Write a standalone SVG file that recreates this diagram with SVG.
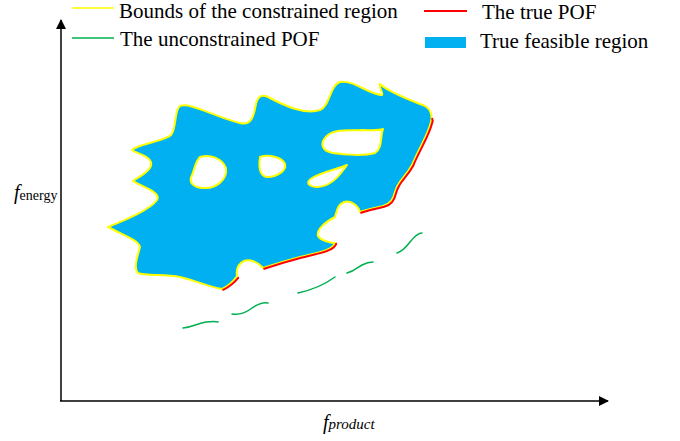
<svg xmlns="http://www.w3.org/2000/svg" width="680" height="441" viewBox="0 0 680 441">
<defs>
<style>
.t{font-family:"Liberation Serif","Times New Roman",serif;fill:#000}
.leg{font-size:21px}
.bnd{stroke:#ffff00;stroke-width:2;stroke-linejoin:round}
.pof{fill:none;stroke:#ff0000;stroke-width:2;stroke-linecap:round}
.upof{fill:none;stroke:#00b050;stroke-width:1.5;stroke-linecap:round}
.ax{stroke:#000;stroke-width:1.5;fill:none}
</style>
<marker id="ah" viewBox="0 0 10 10" refX="9" refY="5" markerWidth="10" markerHeight="10" markerUnits="userSpaceOnUse" orient="auto">
<path d="M0,0 L10,5 L0,10 Z" fill="#000"/>
</marker>
</defs>
<rect width="680" height="441" fill="#fff"/>

<g id="axes">
<path class="ax" d="M61,401 L61,20" marker-end="url(#ah)"/>
<path class="ax" d="M60,401 L608,401" marker-end="url(#ah)"/>
<text class="t" x="14" y="199" style="font-size:20px;font-style:italic">f<tspan style="font-size:14px;font-style:normal" dy="1">energy</tspan></text>
<text class="t" x="323" y="429" style="font-size:20px;font-style:italic">f<tspan style="font-size:15px">product</tspan></text>
</g>

<g id="legend">
<line x1="72" y1="8" x2="114" y2="8" stroke="#ffff00" stroke-width="1.5"/>
<text class="t leg" x="119" y="17.5">Bounds of the constrained region</text>
<line x1="72" y1="38" x2="114" y2="38" stroke="#00b050" stroke-width="1.5"/>
<text class="t leg" x="120" y="46">The unconstrained POF</text>
<line x1="424" y1="11" x2="467" y2="11" stroke="#ff0000" stroke-width="2"/>
<text class="t leg" x="482" y="19">The true POF</text>
<rect x="425" y="37" width="41" height="11" fill="#00b0f0"/>
<text class="t leg" x="480" y="48">True feasible region</text>
</g>

<g id="region">
<path class="bnd" fill="#00b0f0" d="M108,227 C125,220 150,210 157,200 C162,192 140,186 133,181 C140,176 153,170 151,162 C149,155 135,153 132,150 C138,144 165,141 171,135 C177,128 174,110 180,106 C190,102 215,117 240,123 C252,126 254,115 256,104 C258,96 262,94 268,97 C285,106 305,115 320,110 C330,106 330,85 340,82 C352,79 370,95 382,95 C384,94 378,86 380,84 C388,92 410,100 425,106 C432,110 432,118 431,122 C428,135 418,150 412,165 C405,178 398,180 395,192 C393,200 390,204 383,206 C375,208 365,210 360,212 C358,205 350,200 344,202 C338,204 337,210 335,217 C325,222 316,230 318,236 C320,240 330,243 335,243 C333,250 320,252 300,257 C285,261 275,264 263,268 C258,262 250,259 244,261 C238,264 236,270 237,276 C233,282 228,286 222,289 C208,287 195,280 180,277 C165,274 145,276 138,273 C133,268 138,255 140,247 C138,240 125,236 108,227 Z"/>
<path class="bnd" fill="#fff" d="M200,157 C210,154 222,158 226,168 C228,180 215,189 204,188 C193,188 188,182 192,175 C195,168 195,162 200,157 Z"/>
<path class="bnd" fill="#fff" d="M260,157 C268,154 282,157 285,164 C287,171 276,177 268,177 C261,177 258,170 260,157 Z"/>
<path class="bnd" fill="#fff" d="M383,129 C380,136 383,148 375,153 C365,156 345,155 333,153 C322,151 320,144 325,138 C332,128 350,131 362,130 C370,130 378,131 383,129 Z"/>
<path class="bnd" fill="#fff" d="M347,165 C340,175 332,186 318,187 C308,187 305,182 312,178 C322,172 338,169 347,165 Z"/>
</g>

<g id="true-pof" transform="translate(1.2,0.8)">
<path class="pof" d="M431,118 C432,120 431,122 431,122 C428,135 418,150 412,165 C405,178 398,180 395,192 C393,200 390,204 383,206 C375,208 365,210 360,212"/>
<path class="pof" d="M335,243 C333,250 320,252 300,257 C285,261 275,264 263,268"/>
<path class="pof" d="M237,277 C233,282 228,286 222,289"/>
</g>

<g id="unconstrained-pof">
<path class="upof" d="M183,328 C193,327 198,323 206,322 S215,321 218,322"/>
<path class="upof" d="M232,314 C240,315 246,313 252,308 C258,304 263,302 268,303"/>
<path class="upof" d="M298,293 C312,290 324,285 335,277"/>
<path class="upof" d="M347,273 C355,271 358,267 362,265 C366,263 369,262 373,262"/>
<path class="upof" d="M397,253 C403,251 407,246 410,242 C414,237 418,233 422,233"/>
</g>
</svg>
